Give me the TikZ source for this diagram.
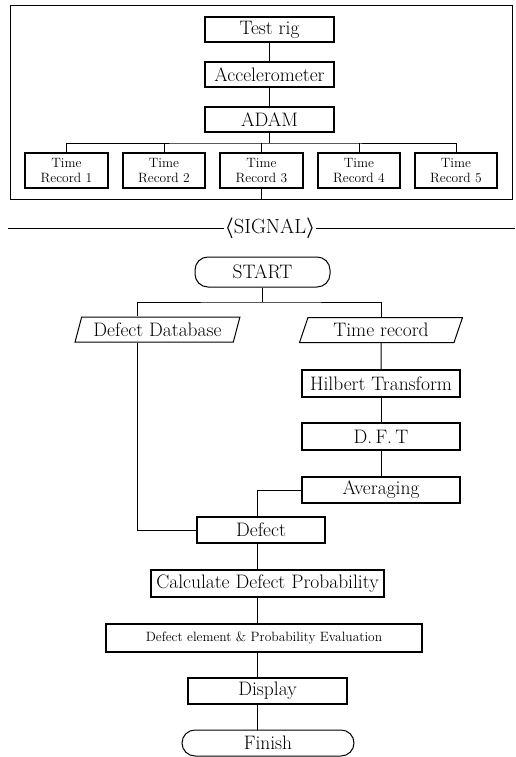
\documentclass[tikz,border=0pt]{standalone}
\usetikzlibrary{shapes.geometric}
\newcommand\boxfont{\fontsize{19.5}{22}\selectfont}
\newcommand\smallboxfont{\fontsize{13.5}{14.5}\selectfont}
\tikzset{
  blk/.style={draw, line width=1.2pt, inner sep=0pt, minimum height=25, font=\boxfont},
  rec/.style={draw, line width=1.1pt, inner sep=0pt, minimum width=83, minimum height=35,
    align=center, font=\smallboxfont},
  term/.style={blk, rounded corners=13pt, line width=1pt},
  io/.style={draw, line width=1pt, inner sep=0pt, trapezium, trapezium left angle=68,
    trapezium right angle=112, trapezium stretches=true, minimum height=25, font=\boxfont},
  link/.style={line width=1pt}
}
\begin{document}
\begin{tikzpicture}[x=1pt,y=-1pt]
  \useasboundingbox (0,0) rectangle (515,757);
  % signal acquisition
  \node[draw, line width=1pt, minimum width=502, minimum height=193] (frame) at (261,102.5) {};
  \node[blk, minimum width=129] (rig) at (269.5,29.5) {Test rig};
  \node[blk, minimum width=129] (accel) at (269.5,74.5) {Accelerometer};
  \node[blk, minimum width=129] (adam) at (269.5,119.5) {ADAM};
  \node[rec] (tr1) at (66.5,170.5) {Time\\Record 1};
  \node[rec, minimum width=82] (tr2) at (164,170.5) {Time\\Record 2};
  \node[rec] (tr3) at (261.5,170.5) {Time\\Record 3};
  \node[rec, minimum width=82] (tr4) at (359,170.5) {Time\\Record 4};
  \node[rec, minimum width=82] (tr5) at (456,170.5) {Time\\Record 5};
  \coordinate (bus) at (269.5,143);
  \begin{scope}[link]
    \draw (rig) -- (accel);
    \draw (accel) -- (adam);
    \draw (adam) -- (bus);
    \draw (tr1.north) |- (bus) -| (tr5.north);
    \draw (tr2.north) -- (tr2.north |- bus);
    \draw (tr3.north) -- (tr3.north |- bus);
    \draw (tr4.north) -- (tr4.north |- bus);
    \draw (tr3.south) -- (tr3.south |- frame.south);
  \end{scope}
  % signal line
  \node[inner sep=0pt, font=\fontsize{20.5}{22}\selectfont] (sig) at (270,228)
    {{\boldmath$\langle$}SIGNAL{\boldmath$\rangle$}};
  \coordinate (sigl) at (8,228);
  \coordinate (sigr) at (515,228);
  \draw[link] (sigl) -- (sig.west);
  \draw[link] (sig.east) -- (sigr);
  % diagnosis
  \node[term, minimum width=135, minimum height=30] (start) at (262.5,272) {START};
  \coordinate (split) at (262.5,302);
  \node[io, minimum width=165] (db) at (157.5,329.5) {Defect Database};
  \node[io, minimum width=163] (trec) at (381,330) {Time record};
  \node[blk, minimum width=158, minimum height=27] (hilbert) at (381,383.5) {Hilbert Transform};
  \node[blk, minimum width=158, minimum height=27] (dft) at (381,436.5) {D.\,F.\,T};
  \node[blk, minimum width=158, minimum height=26] (avg) at (381,490) {Averaging};
  \node[blk, minimum width=128, minimum height=26] (defect) at (261,530) {Defect};
  \node[blk, minimum width=233, minimum height=27] (calc) at (267.5,583.5) {Calculate Defect Probability};
  \node[blk, minimum width=316, minimum height=28, font=\smallboxfont] (evalb) at (264,638)
    {Defect element \& Probability Evaluation};
  \node[blk, minimum width=159, minimum height=26] (display) at (267.5,691) {Display};
  \node[term, minimum width=172, minimum height=26] (finish) at (268,743) {Finish};
  \coordinate (spine) at (257,0);
  \begin{scope}[link]
    \draw (start) -- (split);
    \draw ([xshift=-20pt]db.north) |- (split) -| (trec.north);
    \draw (trec) -- (hilbert);
    \draw (hilbert) -- (dft);
    \draw (dft) -- (avg);
    \draw (avg.west) -| (defect.north -| spine);
    \draw ([xshift=-20pt]db.south) |- (defect.west);
    \draw (defect.south -| spine) -- (calc.north -| spine);
    \draw (calc.south -| spine) -- (evalb.north -| spine);
    \draw (evalb.south -| spine) -- (display.north -| spine);
    \draw (display.south -| spine) -- (finish.north -| spine);
  \end{scope}
\end{tikzpicture}
\end{document}
